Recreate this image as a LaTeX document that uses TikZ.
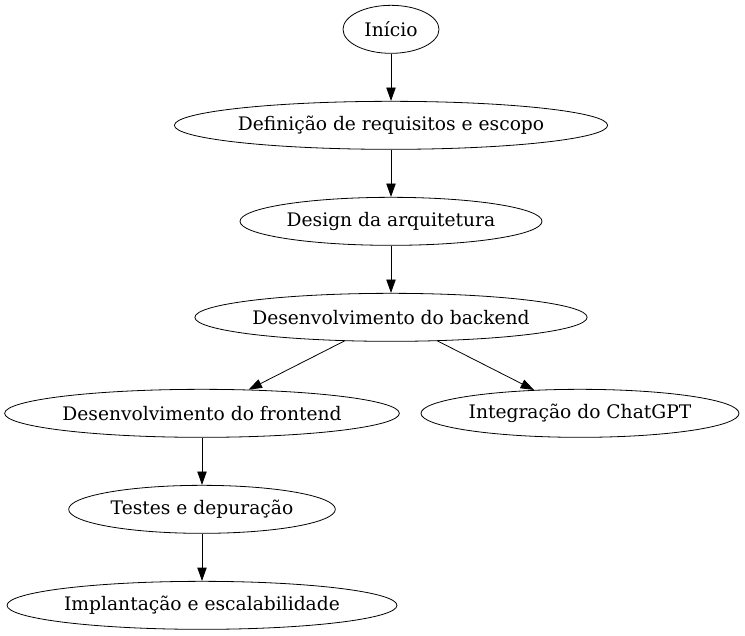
\documentclass[tikz,border=0pt]{standalone}
\usepackage{fontspec}
\setmainfont{DejaVu Serif}
\usetikzlibrary{shapes,positioning,arrows.meta}

\begin{document}
\begin{tikzpicture}[->,>={Triangle[length=10pt,width=7pt]},node distance=72pt, on grid, semithick]
\tikzstyle{nd}=[ellipse,draw=black,text=black,inner sep=0pt,minimum height=36pt,font=\fontsize{14}{16}\selectfont]
\useasboundingbox (0,0) rectangle (558.75pt,476.25pt);
\node[nd, minimum width=72pt]    (inicio) at (293.25pt,454.25pt)          {Início};
\node[nd, minimum width=319.5pt] (req)    [below=of inicio]               {Definição de requisitos e escopo};
\node[nd, minimum width=226.5pt] (arq)    [below=of req]                  {Design da arquitetura};
\node[nd, minimum width=292pt]   (back)   [below=of arq]                  {Desenvolvimento do backend};
\node[nd, minimum width=295.5pt] (front)  [below left=72pt and 141.75pt of back]  {Desenvolvimento do frontend};
\node[nd, minimum width=238.5pt] (gpt)    [below right=72pt and 141.75pt of back] {Integração do ChatGPT};
\node[nd, minimum width=200pt]   (testes) [below=of front]                {Testes e depuração};
\node[nd, minimum width=291pt]   (impl)   [below=of testes]               {Implantação e escalabilidade};
\path
(inicio) edge (req)
(req)    edge (arq)
(arq)    edge (back)
(back)   edge (front)
         edge (gpt)
(front)  edge (testes)
(testes) edge (impl);
\end{tikzpicture}
\end{document}
